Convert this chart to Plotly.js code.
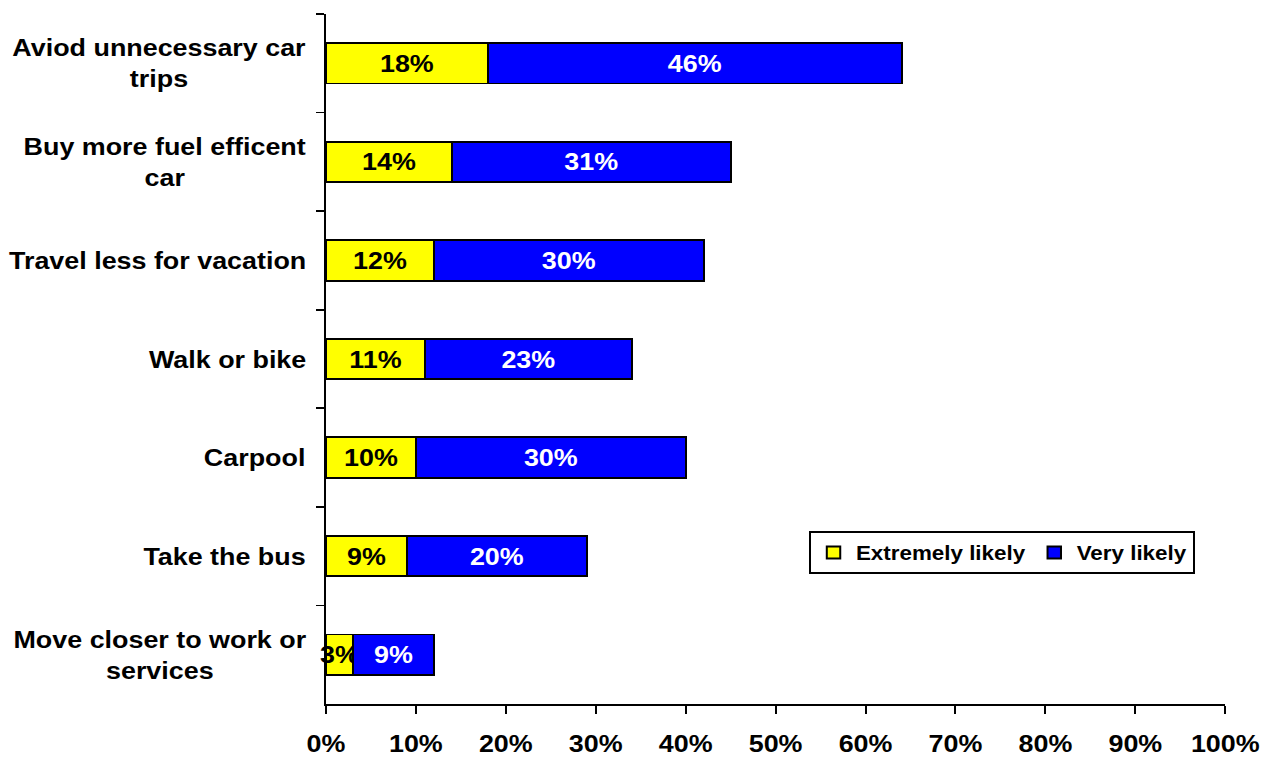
<!DOCTYPE html>
<html>
<head>
<meta charset="utf-8">
<script src="https://cdn.plot.ly/plotly-3.0.1.min.js"></script>
<style>
  html, body { margin: 0; padding: 0; background: #ffffff; overflow: hidden; }
  #wrap { width: 1265px; height: 757px; overflow: hidden; }
  #chart { width: 1129.46px; height: 757px; transform: scaleX(1.12); transform-origin: 0 0; }
</style>
</head>
<body>
<div id="wrap"><div id="chart"></div></div>
<script>
// Categories, top to bottom
const categories = [
  "Aviod unnecessary car<br>trips",
  "Buy more fuel efficent<br>car",
  "Travel less for vacation",
  "Walk or bike",
  "Carpool",
  "Take the bus",
  "Move closer to work or<br>services"
];
const extremelyLikely = [18, 14, 12, 11, 10, 9, 3];
const veryLikely = [46, 31, 30, 23, 30, 20, 9];
const seriesNames = ["Extremely likely", "Very likely"];
const xTickVals = [0, 10, 20, 30, 40, 50, 60, 70, 80, 90, 100];

const FONT = 'Arial, "Liberation Sans", sans-serif';
const FS = 24;

function pct(arr) { return arr.map(v => v + "%"); }

const traces = [
  {
    type: "bar", orientation: "h", name: seriesNames[0],
    y: categories, x: extremelyLikely,
    text: pct(extremelyLikely), textposition: "inside", insidetextanchor: "middle",
    constraintext: "none", textangle: 0, cliponaxis: false,
    textfont: { family: FONT, size: FS, color: "#000000", weight: "bold" },
    marker: { color: "#ffff00", line: { color: "#000000", width: 1.8 } },
    width: 0.41, hoverinfo: "skip"
  },
  {
    type: "bar", orientation: "h", name: seriesNames[1],
    y: categories, x: veryLikely,
    text: pct(veryLikely), textposition: "inside", insidetextanchor: "middle",
    constraintext: "none", textangle: 0,
    textfont: { family: FONT, size: FS, color: "#ffffff", weight: "bold" },
    marker: { color: "#0000ff", line: { color: "#000000", width: 1.8 } },
    width: 0.41, hoverinfo: "skip"
  }
];

const annotations = categories.map(c => ({
  xref: "paper", yref: "y", x: 0, y: c,
  xanchor: "right", yanchor: "middle", xshift: -16.5, yshift: 0,
  text: c, align: "center", showarrow: false,
  font: { family: FONT, size: FS, color: "#000000", weight: "bold" }
}));

const layout = {
  width: 1129.46, height: 757, autosize: false,
  paper_bgcolor: "#ffffff", plot_bgcolor: "#ffffff",
  margin: { l: 291.07, r: 34.82, t: 14, b: 53, pad: 0 },
  barmode: "stack",
  showlegend: true,
  legend: {
    orientation: "h", x: 0.537, y: 0.2507, xanchor: "left", yanchor: "top",
    bordercolor: "#000000", borderwidth: 2, bgcolor: "#ffffff",
    font: { family: FONT, size: 20, color: "#000000", weight: "bold" },
    traceorder: "normal", itemwidth: 30
  },
  xaxis: {
    range: [0, 100], tickvals: xTickVals, ticktext: xTickVals.map(v => v + "%"),
    showgrid: false, zeroline: false, showline: true, linecolor: "#000000", linewidth: 1.8,
    ticks: "outside", ticklen: 8, tickwidth: 1.8, tickcolor: "#000000",
    tickfont: { family: FONT, size: FS, color: "#000000", weight: "bold" },
    ticklabelstandoff: 9, fixedrange: true
  },
  yaxis: {
    type: "category", autorange: "reversed", layer: "below traces",
    showgrid: false, zeroline: false, showline: true, linecolor: "#000000", linewidth: 1.8,
    ticks: "outside", ticklen: 7.1, tickwidth: 1.8, tickcolor: "#000000",
    tickson: "boundaries", showticklabels: false, fixedrange: true
  },
  annotations: annotations
};

Plotly.newPlot("chart", traces, layout, { displayModeBar: false, staticPlot: true });
</script>
</body>
</html>
